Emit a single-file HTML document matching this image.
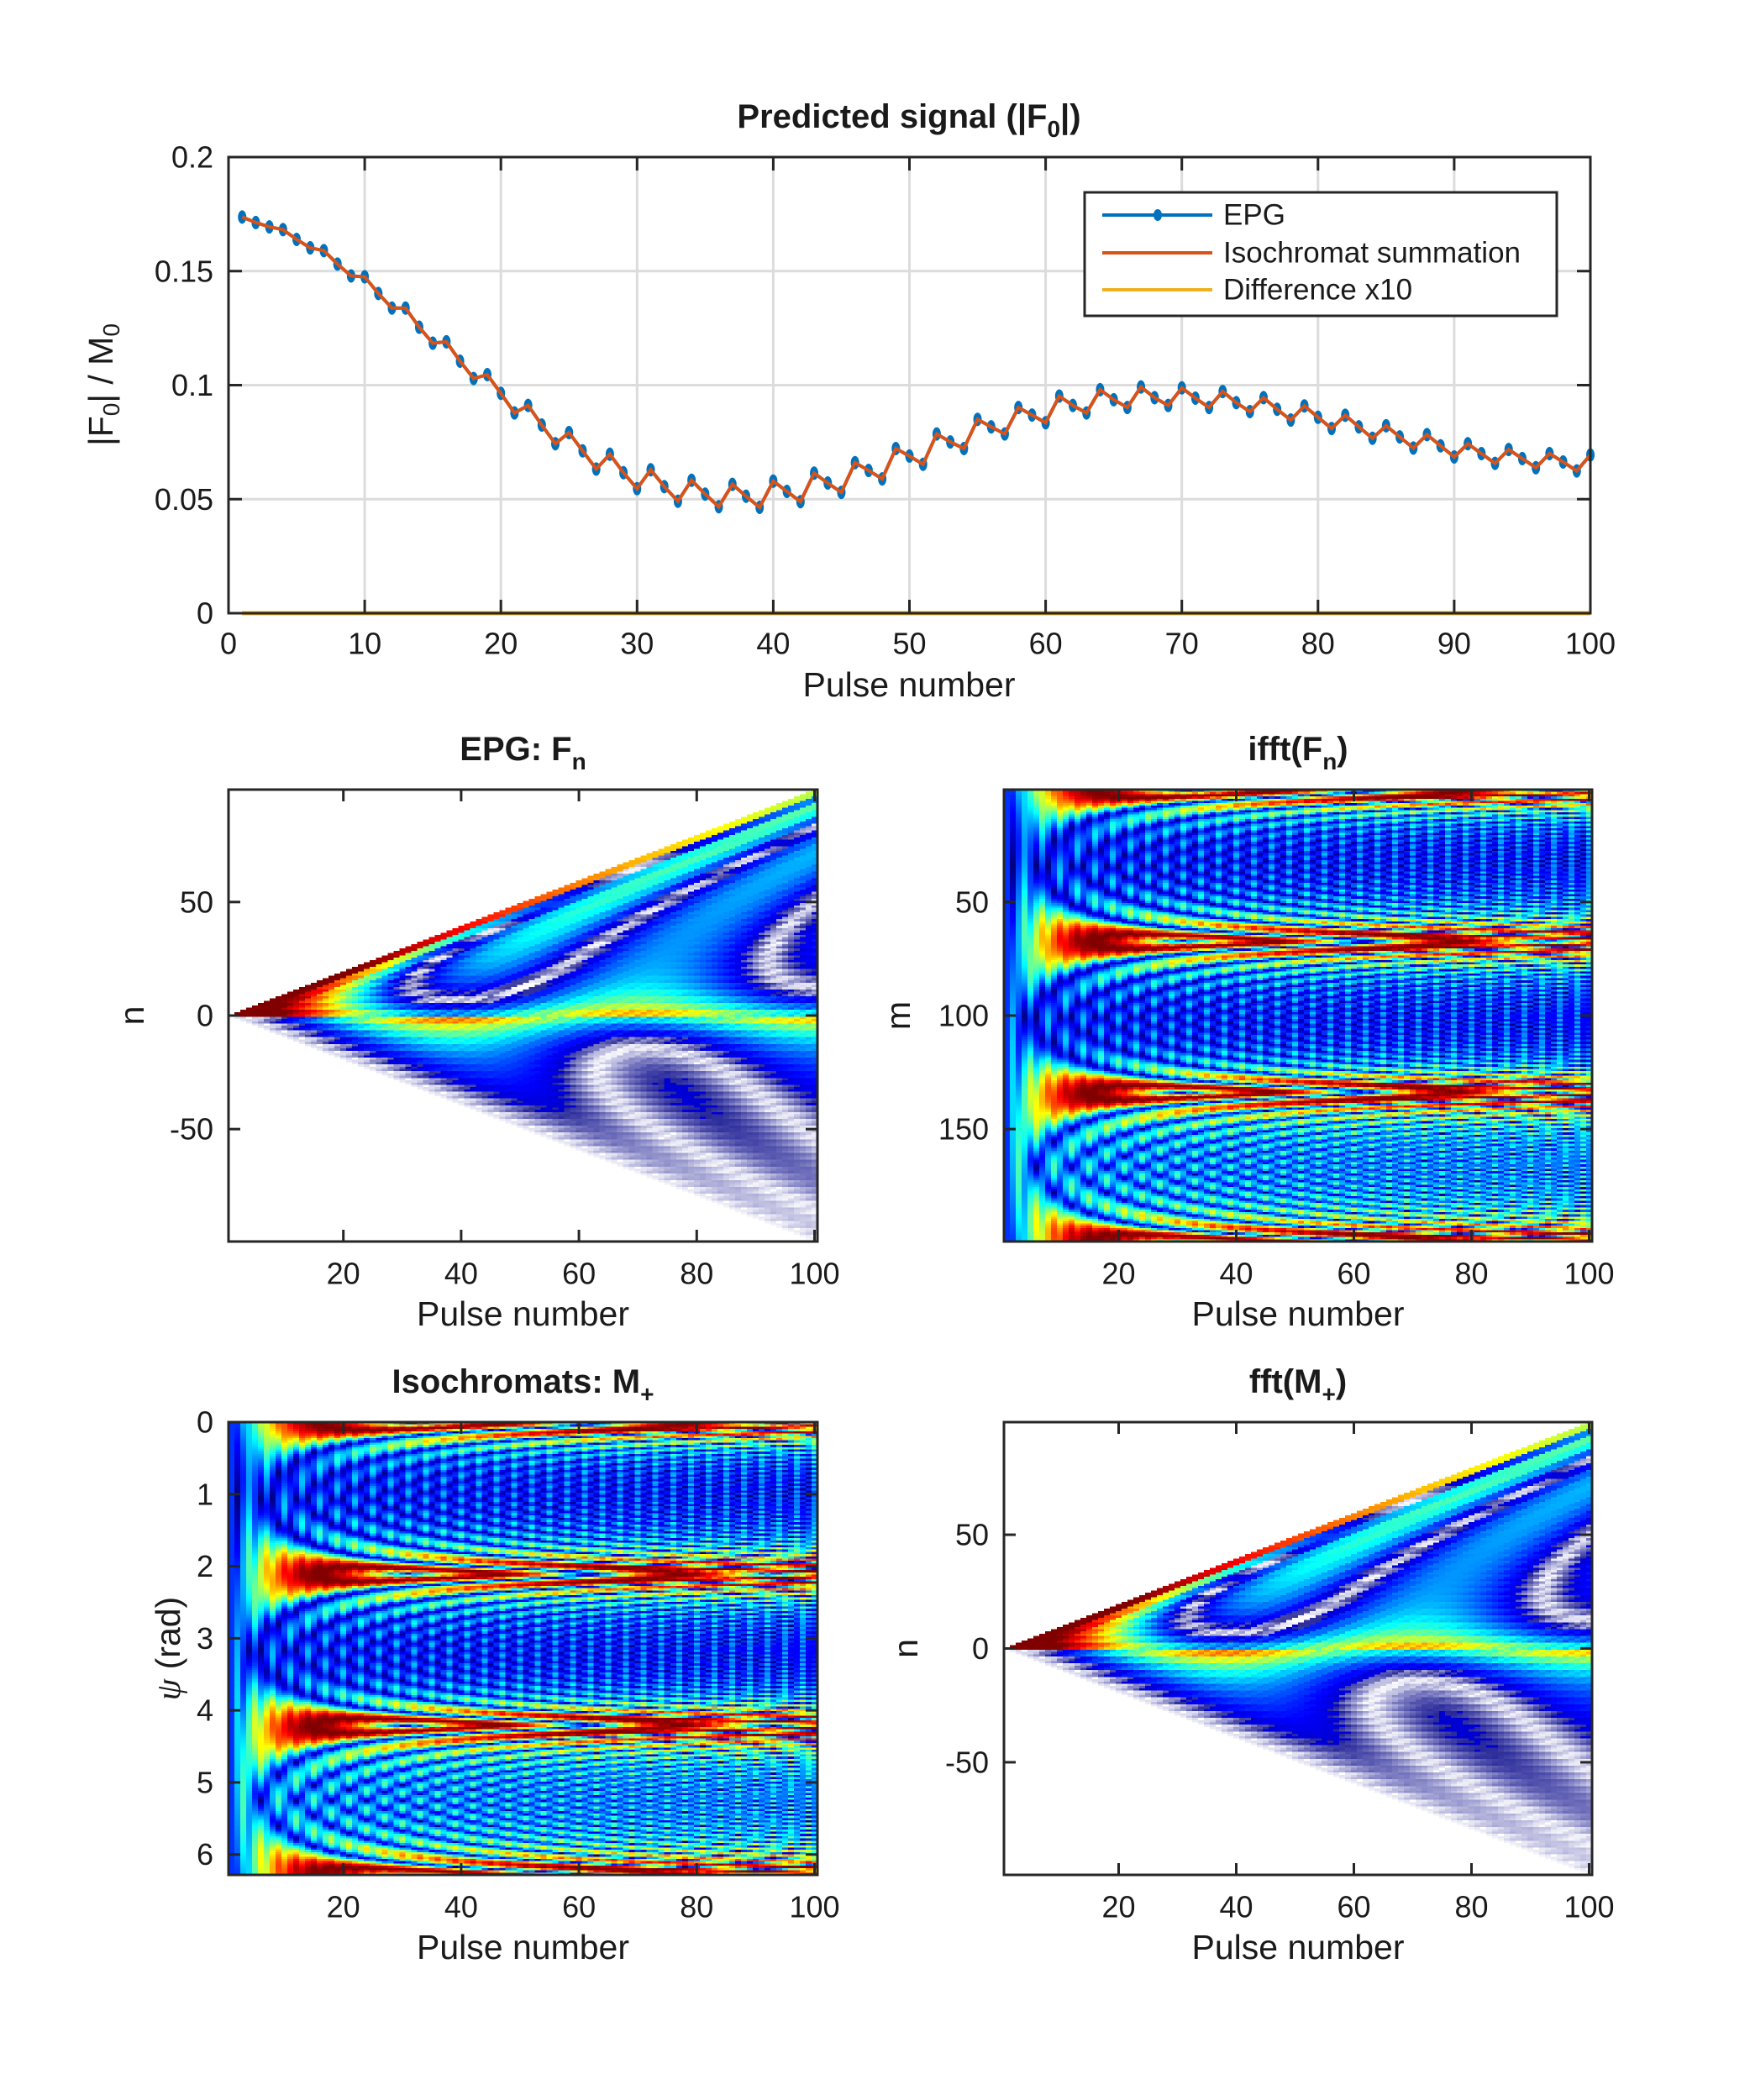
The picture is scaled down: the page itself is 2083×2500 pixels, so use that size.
<!DOCTYPE html>
<html><head><meta charset="utf-8">
<style>
html,body{margin:0;padding:0;background:#fff;}
body{width:2083px;height:2500px;position:relative;overflow:hidden;font-family:"Liberation Sans",Arial,sans-serif;}
svg{position:absolute;left:0;top:0;}
canvas{position:absolute;image-rendering:pixelated;}
</style></head>
<body>
<canvas id="c1" style="left:272px;top:940px;width:701px;height:538px"></canvas>
<canvas id="c2" style="left:1195px;top:940px;width:700px;height:538px"></canvas>
<canvas id="c3" style="left:272px;top:1693px;width:701px;height:539px"></canvas>
<canvas id="c4" style="left:1195px;top:1693px;width:700px;height:539px"></canvas>
<svg id="svg" width="2083" height="2500" xmlns="http://www.w3.org/2000/svg"></svg>
<script>
// ---- top chart data ----
const pulses = Array.from({length:100},(_,i)=>i+1);
const epgSignal = [0.1737,0.1713,0.1694,0.1682,0.1639,0.1602,0.1590,0.1531,0.1479,0.1475,
0.1402,0.1338,0.1338,0.1254,0.1184,0.1190,0.1105,0.1029,0.1046,0.0964,
0.0878,0.0911,0.0825,0.0743,0.0792,0.0712,0.0632,0.0697,0.0616,0.0546,
0.0629,0.0555,0.0491,0.0583,0.0522,0.0467,0.0565,0.0513,0.0464,0.0579,
0.0534,0.0489,0.0614,0.0571,0.0530,0.0660,0.0626,0.0589,0.0722,0.0689,
0.0653,0.0786,0.0751,0.0722,0.0850,0.0817,0.0786,0.0902,0.0869,0.0835,
0.0952,0.0911,0.0878,0.0980,0.0936,0.0902,0.0992,0.0945,0.0911,0.0988,
0.0943,0.0902,0.0972,0.0923,0.0884,0.0945,0.0894,0.0847,0.0909,0.0859,
0.0810,0.0868,0.0817,0.0767,0.0822,0.0773,0.0724,0.0783,0.0734,0.0685,
0.0743,0.0700,0.0657,0.0718,0.0678,0.0638,0.0700,0.0663,0.0624,0.0694];
const isoSignal = epgSignal.slice();
const diffSignal = epgSignal.map(()=>0);
const xTicks = [0,10,20,30,40,50,60,70,80,90,100];
const yTicks = [0,0.05,0.1,0.15,0.2];
const hmXTicks = [20,40,60,80,100];
const nTicks = [50,0,-50];
const mTicks = [50,100,150];
const psiTicks = [0,1,2,3,4,5,6];

const NS="http://www.w3.org/2000/svg";
const svg=document.getElementById('svg');
function el(tag,attrs,parent){const e=document.createElementNS(NS,tag);for(const k in attrs)e.setAttribute(k,attrs[k]);(parent||svg).appendChild(e);return e;}
function txt(x,y,s,size,opts,parent){opts=opts||{};const t=el('text',{x:x,y:y,'font-size':size,'text-anchor':opts.anchor||'middle','dominant-baseline':'central','font-family':'Liberation Sans, Arial, sans-serif','font-weight':opts.bold?'bold':'normal',fill:'#1a1a1a'},parent);if(opts.rot)t.setAttribute('transform','rotate(-90 '+x+' '+y+')');t.innerHTML=s;return t;}

const T={l:272,r:1893,t:187,b:730};
const sx=v=>T.l+(v-0)/(100-0)*(T.r-T.l);
const sy=v=>T.b-(v-0)/(0.2-0)*(T.b-T.t);
const gTop=el('g',{});


xTicks.forEach(v=>{if(v>0&&v<100){const g=el('line',{x1:sx(v),x2:sx(v),y1:T.t,y2:T.b,stroke:'#dcdcdc','stroke-width':3},gTop);}});
yTicks.forEach(v=>{if(v>0&&v<0.2){const g=el('line',{x1:T.l,x2:T.r,y1:sy(v),y2:sy(v),stroke:'#dcdcdc','stroke-width':3},gTop);}});
const isoPts=pulses.map((p,i)=>sx(p)+','+sy(isoSignal[i])).join(' ');
const epgPts=pulses.map((p,i)=>sx(p)+','+sy(epgSignal[i])).join(' ');
const epgLine=el('polyline',{points:epgPts,fill:'none',stroke:'#0072BD','stroke-width':4},gTop);


pulses.forEach((p,i)=>{const c=el('ellipse',{cx:sx(p),cy:sy(epgSignal[i]),rx:5,ry:8,fill:'#0072BD'},gTop);

});
const isoLine=el('polyline',{points:isoPts,fill:'none',stroke:'#D95319','stroke-width':4},gTop);


const diffLine=el('polyline',{points:pulses.map((p,i)=>sx(p)+','+sy(diffSignal[i]*10)).join(' '),fill:'none',stroke:'#EDB120','stroke-width':5},gTop);


const fr=el('rect',{x:T.l,y:T.t,width:T.r-T.l,height:T.b-T.t,fill:'none',stroke:'#262626','stroke-width':3},gTop);


xTicks.forEach(v=>{el('line',{x1:sx(v),x2:sx(v),y1:T.b,y2:T.b-16,stroke:'#262626','stroke-width':3},gTop);el('line',{x1:sx(v),x2:sx(v),y1:T.t,y2:T.t+16,stroke:'#262626','stroke-width':3},gTop);
const t=txt(sx(v),766,String(v),36,{},gTop);});
yTicks.forEach(v=>{el('line',{x1:T.l,x2:T.l+16,y1:sy(v),y2:sy(v),stroke:'#262626','stroke-width':3},gTop);el('line',{x1:T.r,x2:T.r-16,y1:sy(v),y2:sy(v),stroke:'#262626','stroke-width':3},gTop);
const t=txt(254,sy(v),String(v),36,{anchor:'end'},gTop);});
let t;
t=txt(1082,815,'Pulse number',41,{},gTop);
t=txt(120,458,'|F<tspan font-size="28" dy="12">0</tspan><tspan dy="-12">| / M</tspan><tspan font-size="28" dy="12">0</tspan>',41,{rot:true},gTop);
t=txt(1082,139,'Predicted signal (|F<tspan font-size="28" dy="14">0</tspan><tspan dy="-14">|)</tspan>',40,{bold:true},gTop);
const lg=el('g',{},gTop);


el('rect',{x:1291,y:229,width:562,height:147,fill:'#fff',stroke:'#262626','stroke-width':3},lg);
[['EPG','#0072BD',256],['Isochromat summation','#D95319',301],['Difference x10','#EDB120',345]].forEach(([s,c,y])=>{
const ln=el('line',{x1:1312,x2:1443,y1:y,y2:y,stroke:c,'stroke-width':4},lg);


if(s==='EPG')el('ellipse',{cx:1378,cy:y,rx:5,ry:7,fill:c},lg);
const tt=txt(1456,y,s,35,{anchor:'start'},lg);

});

function panel(L,R,Tp,B,xr,yr,yTicksArr,yRev,title,ylab,ylabX,name){
 const g=el('g',{});
 
 
 const px=v=>L+(v-xr[0])/(xr[1]-xr[0])*(R-L);
 const py=v=>yRev? Tp+(v-yr[0])/(yr[1]-yr[0])*(B-Tp) : B-(v-yr[0])/(yr[1]-yr[0])*(B-Tp);
 el('rect',{x:L,y:Tp,width:R-L,height:B-Tp,fill:'none',stroke:'#262626','stroke-width':3},g);
 hmXTicks.forEach(v=>{el('line',{x1:px(v),x2:px(v),y1:B,y2:B-14,stroke:'#262626','stroke-width':3},g);el('line',{x1:px(v),x2:px(v),y1:Tp,y2:Tp+14,stroke:'#262626','stroke-width':3},g);
  const a=txt(px(v),B+38,String(v),36,{},g);});
 yTicksArr.forEach(v=>{el('line',{x1:L,x2:L+14,y1:py(v),y2:py(v),stroke:'#262626','stroke-width':3},g);el('line',{x1:R,x2:R-14,y1:py(v),y2:py(v),stroke:'#262626','stroke-width':3},g);
  const a=txt(L-18,py(v),String(v),36,{anchor:'end'},g);});
 let a=txt((L+R)/2,B+86,'Pulse number',41,{},g);
 a=txt(ylabX,(Tp+B)/2,ylab,41,{rot:true},g);
 a=txt((L+R)/2,Tp-48,title,40,{bold:true},g);
}
panel(272,973,940,1478,[0.5,100.5],[-99.5,99.5],nTicks,false,'EPG: F<tspan font-size="28" dy="14">n</tspan>','n',157,'epg-fn');
panel(1195,1895,940,1478,[0.5,100.5],[0.5,199.5],mTicks,true,'ifft(F<tspan font-size="28" dy="14">n</tspan><tspan dy="-14">)</tspan>','m',1069,'ifft-fn');
panel(272,973,1693,2232,[0.5,100.5],[0,6.2832],psiTicks,true,'Isochromats: M<tspan font-size="28" dy="14">+</tspan>','<tspan font-family="Liberation Serif" font-style="italic">ψ</tspan> (rad)',200,'isochromats');
panel(1195,1895,1693,2232,[0.5,100.5],[-99.5,99.5],nTicks,false,'fft(M<tspan font-size="28" dy="14">+</tspan><tspan dy="-14">)</tspan>','n',1078,'fft-mplus');

// ---- simulation for heatmaps ----
const NP=100, N=199, alpha=10*Math.PI/180;
const Mx=new Float64Array(N),My=new Float64Array(N),Mz=new Float64Array(N).fill(1);
const mpRe=[],mpIm=[];
const ca=Math.cos(alpha),sa=Math.sin(alpha);
for(let p=1;p<=NP;p++){
 const phi=(2*Math.PI/3)*(p*(p+1)/2);
 const ux=Math.cos(phi),uy=Math.sin(phi);
 const re=new Float64Array(N),im=new Float64Array(N);
 for(let k=0;k<N;k++){
  let x=Mx[k],y=My[k],z=Mz[k];
  const d=ux*x+uy*y;
  const cx=uy*z, cy=-ux*z, cz=ux*y-uy*x;
  x=x*ca+cx*sa+ux*d*(1-ca);
  y=y*ca+cy*sa+uy*d*(1-ca);
  z=z*ca+cz*sa;
  const c=Math.cos(phi),s=Math.sin(phi);
  re[k]=x*c+y*s; im[k]=y*c-x*s;
  const psi=2*Math.PI*k/N, cp=Math.cos(psi), sp=Math.sin(psi);
  Mx[k]=x*cp-y*sp; My[k]=x*sp+y*cp; Mz[k]=z;
 }
 mpRe.push(re);mpIm.push(im);
}
function jet(v){v=Math.max(0,Math.min(1,v));const f=a=>Math.max(0,Math.min(1,a));return [f(1.5-Math.abs(4*v-3)),f(1.5-Math.abs(4*v-2)),f(1.5-Math.abs(4*v-1))];}
function drawIso(id,shift){
 const cv=document.getElementById(id);cv.width=NP;cv.height=N;const ctx=cv.getContext('2d');const img=ctx.createImageData(NP,N);
 let mx=0;for(let p=0;p<NP;p++)for(let k=0;k<N;k++)mx=Math.max(mx,Math.hypot(mpRe[p][k],mpIm[p][k]));
 for(let p=0;p<NP;p++)for(let r=0;r<N;r++){const k=(r+shift)%N;const v=Math.hypot(mpRe[p][k],mpIm[p][k])/mx;const c=jet(v);const i=(r*NP+p)*4;img.data[i]=c[0]*255;img.data[i+1]=c[1]*255;img.data[i+2]=c[2]*255;img.data[i+3]=255;}
 ctx.putImageData(img,0,0);
}
drawIso('c3',0);drawIso('c2',0);
const F=[];
const cosT=[],sinT=[];
for(let n=-99;n<=99;n++){const cr=new Float64Array(N),sr=new Float64Array(N);for(let k=0;k<N;k++){const a=-n*2*Math.PI*k/N;cr[k]=Math.cos(a);sr[k]=Math.sin(a);}cosT.push(cr);sinT.push(sr);}
for(let p=0;p<NP;p++){const col=new Float64Array(199);for(let j=0;j<199;j++){let sr=0,si=0;const c=cosT[j],s=sinT[j],re=mpRe[p],im=mpIm[p];for(let k=0;k<N;k++){sr+=re[k]*c[k]-im[k]*s[k];si+=re[k]*s[k]+im[k]*c[k];}col[j]=Math.hypot(sr,si)/N;}F.push(col);}
function drawF(id){
 const cv=document.getElementById(id);cv.width=NP;cv.height=199;const ctx=cv.getContext('2d');const img=ctx.createImageData(NP,199);
 let amax=0;for(let p=0;p<NP;p++)for(let j=0;j<199;j++)amax=Math.max(amax,F[p][j]);
 const hi=amax*0.85;
 for(let p=0;p<NP;p++)for(let r=0;r<199;r++){const j=198-r;const n=j-99;const i=(r*NP+p)*4;let c=[1,1,1];
  if(Math.abs(n)<=p){const t=F[p][j]/hi;
   if(t<0.08){const w=Math.max(0,t/0.08);const base=[0.15,0.15,0.6];c=[1-(1-base[0])*w,1-(1-base[1])*w,1-(1-base[2])*w];}
   else c=jet(t);}
  img.data[i]=c[0]*255;img.data[i+1]=c[1]*255;img.data[i+2]=c[2]*255;img.data[i+3]=255;}
 ctx.putImageData(img,0,0);
}
drawF('c1');drawF('c4');
</script>
</body></html>
